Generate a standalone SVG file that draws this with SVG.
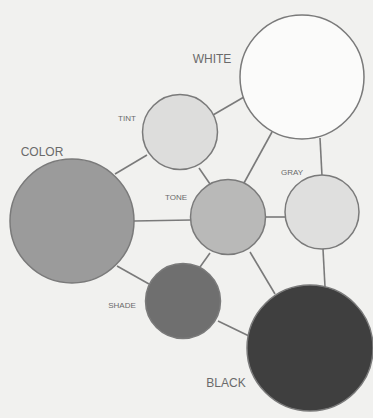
<svg xmlns="http://www.w3.org/2000/svg" width="373" height="418" viewBox="0 0 373 418">
<style>
.n{stroke:#7a7a7a;stroke-width:1.5}
.e line{stroke:#7a7a7a;stroke-width:1.6}
text{font-family:"Liberation Sans",Arial,sans-serif;fill:#6a6a6a;text-anchor:middle;dominant-baseline:central}
.big{font-size:12px}
.sm{font-size:8px}
</style>
<rect width="373" height="418" fill="#f1f1ef"/>
<g class="e" id="connectors">
<line x1="213" y1="115" x2="244" y2="97"/>
<line x1="115" y1="174" x2="147" y2="155"/>
<line x1="199" y1="168" x2="210" y2="184"/>
<line x1="272" y1="132" x2="244" y2="183"/>
<line x1="320" y1="138" x2="322" y2="176"/>
<line x1="134" y1="221" x2="191" y2="220"/>
<line x1="266" y1="217" x2="286" y2="217"/>
<line x1="117" y1="266" x2="149" y2="284"/>
<line x1="210" y1="253" x2="200" y2="267"/>
<line x1="250" y1="252" x2="275" y2="294"/>
<line x1="323" y1="249" x2="325" y2="287"/>
<line x1="218" y1="321" x2="249" y2="336"/>
</g>
<g id="white"><circle class="n" cx="302" cy="77" r="62" fill="#fbfbfa"/><text class="big" x="212" y="59">WHITE</text></g>
<g id="tint"><circle class="n" cx="180" cy="132" r="37.5" fill="#dddddc"/><text class="sm" x="127" y="118">TINT</text></g>
<g id="color"><circle class="n" cx="72" cy="221" r="62" fill="#9b9b9b"/><text class="big" x="42" y="152">COLOR</text></g>
<g id="tone"><circle class="n" cx="228" cy="217" r="37.5" fill="#b9b9b8"/><text class="sm" x="176" y="197">TONE</text></g>
<g id="gray"><circle class="n" cx="322" cy="212" r="37" fill="#dfdfde"/><text class="sm" x="292" y="172">GRAY</text></g>
<g id="shade"><circle class="n" cx="183" cy="301" r="37.5" fill="#6f6f6f"/><text class="sm" x="122" y="305">SHADE</text></g>
<g id="black"><circle class="n" cx="310" cy="348" r="63" fill="#3f3f3f" stroke="#555"/><text class="big" x="226" y="383">BLACK</text></g>
</svg>
